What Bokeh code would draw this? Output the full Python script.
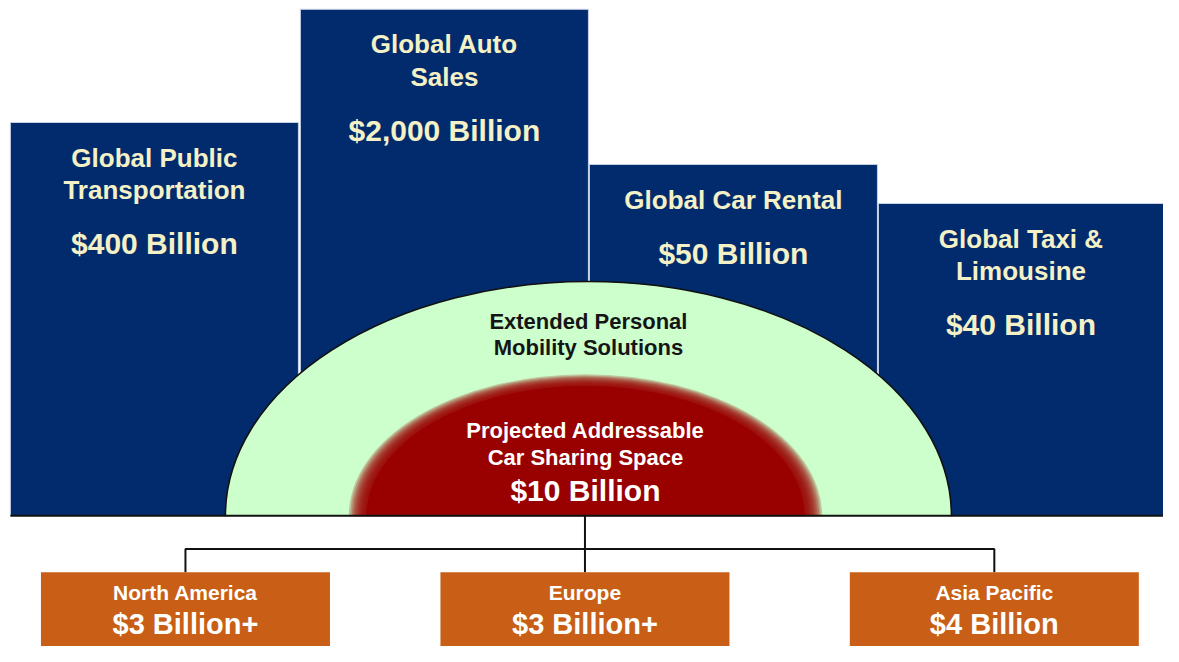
from bokeh.plotting import figure
from bokeh.models import Range1d
from bokeh.embed import file_html
from bokeh.resources import INLINE
from bokeh.core.properties import value

# ---------------- data ----------------
sector_titles = [["Global Public", "Transportation"],
                 ["Global Auto", "Sales"],
                 ["Global Car Rental"],
                 ["Global Taxi &", "Limousine"]]
sector_values = [400, 2000, 50, 40]          # $ billion
mobility_label = ["Extended Personal", "Mobility Solutions"]
carshare_label = ["Projected Addressable", "Car Sharing Space"]
carshare_value = 10                           # $ billion
regions = ["North America", "Europe", "Asia Pacific"]
region_values = [3, 3, 4]                     # $ billion
region_plus = [True, True, False]

# ---------------- layout (reference pixel space) ----------------
bar_left = [10, 304, 597, 890]
bar_right = [302, 596, 889, 1180]
bar_top = [125, 9, 168, 208]
base_y = 528
box_left = [41, 446, 861]
box_width = 293
box_top = 586
conn_y = 562

NAVY = "#022B6E"
CREAM = "#F4F1C6"
GREEN = "#CCFFCC"
RED = "#990000"
ORANGE = "#C95F16"
FONT = value("Liberation Sans")

p = figure(width=1163, height=646, x_range=Range1d(0, 1179), y_range=Range1d(662, 0),
           x_axis_type=None, y_axis_type=None, toolbar_location=None,
           output_backend="svg", min_border=0)
p.grid.visible = False
p.outline_line_color = None
p.background_fill_color = "white"
p.border_fill_color = "white"

# bars
p.quad(left=bar_left, right=bar_right, top=bar_top, bottom=[base_y] * 4,
       fill_color=NAVY, line_color="#C9D2E6", line_width=1)

# bar texts
tx, ty, tt = [], [], []
vx, vy, vt = [], [], []
for i, lines in enumerate(sector_titles):
    cx = (bar_left[i] + min(bar_right[i], 1179)) / 2
    y0 = bar_top[i] + 36
    for j, ln in enumerate(lines):
        tx.append(cx); ty.append(y0 + 33 * j); tt.append(ln)
    vx.append(cx); vy.append(y0 + 33 * (len(lines) - 1) + 55)
    vt.append(f"${sector_values[i]:,} Billion")
p.text(tx, ty, text=tt, text_align="center", text_baseline="middle",
       text_font=FONT, text_font_style="bold", text_font_size="26px", text_color=CREAM)
p.text(vx, vy, text=vt, text_align="center", text_baseline="middle",
       text_font=FONT, text_font_style="bold", text_font_size="30px", text_color=CREAM)

# outer green half ellipse
gx, ga, gb = 596, 368, 240
p.ellipse(x=[gx], y=[base_y], width=[2 * ga], height=[2 * gb],
          fill_color=GREEN, line_color="#111111", line_width=1.6)

# inner red half ellipse with soft edge
rx, ra, rb = 593, 231, 139
blur = 18
n = 12
for k in range(n):
    f = 1 - k / (n - 1)
    p.ellipse(x=[rx], y=[base_y], width=[2 * (ra - blur / 2 + blur * f)],
              height=[2 * (rb - blur / 3 + blur * 0.66 * f)],
              fill_color=RED, fill_alpha=0.22, line_color=None)
p.ellipse(x=[rx], y=[base_y], width=[2 * (ra - blur / 2)], height=[2 * (rb - blur / 3)],
          fill_color=RED, line_color=None)

# cover lower halves
p.quad(left=[-10], right=[1200], top=[base_y + 0.5], bottom=[700],
       fill_color="white", line_color=None)

# base line
p.segment(x0=[bar_left[0]], y0=[base_y], x1=[bar_right[-1]], y1=[base_y],
          line_color="#111111", line_width=2)

# ellipse texts
p.text([gx, gx], [329, 356], text=mobility_label, text_align="center",
       text_baseline="middle", text_font=FONT, text_font_style="bold",
       text_font_size="22px", text_color="#151515")
p.text([rx, rx], [441, 468], text=carshare_label, text_align="center",
       text_baseline="middle", text_font=FONT, text_font_style="bold",
       text_font_size="22px", text_color="white")
p.text([rx], [502], text=[f"${carshare_value} Billion"], text_align="center",
       text_baseline="middle", text_font=FONT, text_font_style="bold",
       text_font_size="30px", text_color="white")

# connectors
centers = [l + box_width / 2 for l in box_left]
xs = [[centers[1], centers[1]], [centers[0], centers[0], centers[-1], centers[-1]]]
ys = [[base_y, box_top], [box_top, conn_y, conn_y, box_top]]
p.multi_line(xs=xs, ys=ys, line_color="#111111", line_width=2)

# region boxes
p.quad(left=box_left, right=[l + box_width for l in box_left], top=[box_top] * 3,
       bottom=[700] * 3, fill_color=ORANGE, line_color=None)
p.text(centers, [607] * 3, text=regions, text_align="center", text_baseline="middle",
       text_font=FONT, text_font_style="bold", text_font_size="21px", text_color="white")
p.text(centers, [639] * 3,
       text=[f"${v} Billion" + ("+" if pl else "") for v, pl in zip(region_values, region_plus)],
       text_align="center", text_baseline="middle", text_font=FONT,
       text_font_style="bold", text_font_size="29px", text_color="white")

open("out.html", "w").write(file_html(p, INLINE))
